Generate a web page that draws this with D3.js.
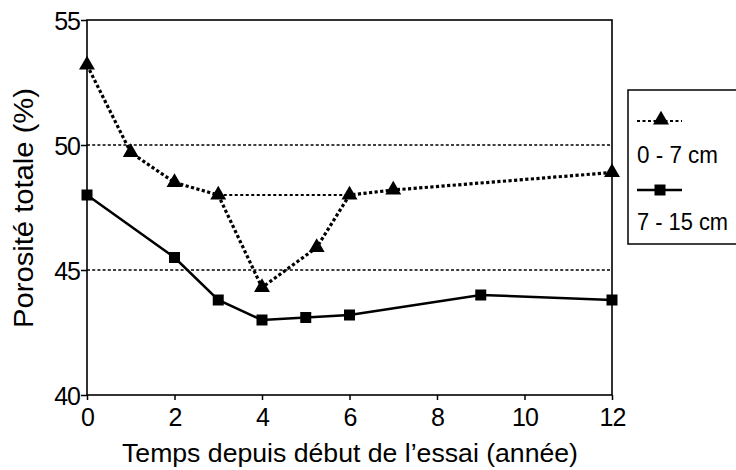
<!DOCTYPE html>
<html>
<head>
<meta charset="utf-8">
<script src="https://cdn.jsdelivr.net/npm/d3@7"></script>
<style>
  body { margin: 0; background: #fff; }
  svg text { font-family: "Liberation Sans", Arial, Helvetica, sans-serif; fill: #000; }
</style>
</head>
<body>
<svg id="main" width="736" height="470"></svg>
<script>
// years since start of the trial
var yearsTop = [0, 1, 2, 3, 4, 5.25, 6, 7, 12];
var porosityTop = [53.2, 49.7, 48.5, 48.0, 44.3, 45.9, 48.0, 48.2, 48.9];   // 0 - 7 cm

var yearsDeep = [0, 2, 3, 4, 5, 6, 9, 12];
var porosityDeep = [48.0, 45.5, 43.8, 43.0, 43.1, 43.2, 44.0, 43.8];     // 7 - 15 cm

var xTicks = [0, 2, 4, 6, 8, 10, 12];
var yTicks = [40, 45, 50, 55];
var gridValues = [45, 50];
var legendLabels = ["0 - 7 cm", "7 - 15 cm"];

var svg = d3.select("svg#main");

var x = d3.scaleLinear().domain([0, 12]).range([87, 612]);
var y = d3.scaleLinear().domain([40, 55]).range([395, 20]);

// dotted grid lines
svg.selectAll("line.grid")
  .data(gridValues)
  .enter().append("line")
  .attr("class", "grid")
  .attr("x1", x(0)).attr("x2", x(12))
  .attr("y1", function (d) { return y(d) }).attr("y2", function (d) { return y(d) })
  .style("stroke", "#000").style("stroke-width", 1.3).style("stroke-dasharray", "3,2.2");

// axes
var xAxis = d3.axisBottom(x).tickValues(xTicks).tickSize(5).tickPadding(8).tickFormat(d3.format("d"));
var yAxis = d3.axisLeft(y).tickValues(yTicks).tickSize(6).tickPadding(1).tickFormat(d3.format("d"));

var gx = svg.append("g").attr("transform", "translate(0," + y(40) + ")").call(xAxis);
var gy = svg.append("g").attr("transform", "translate(" + x(0) + ",0)").call(yAxis);

[gx, gy].forEach(function (g) {
  g.select(".domain").remove();
  g.selectAll(".tick line").style("stroke", "#000").style("stroke-width", 1.5);
  g.selectAll(".tick text").style("font-size", "25px").style("letter-spacing", "-1px");
});
gy.selectAll(".tick text").attr("dy", "0.36em");
gx.selectAll(".tick text").attr("dy", "0.71em");

// frame
svg.append("rect")
  .attr("x", x(0)).attr("y", y(55))
  .attr("width", x(12) - x(0)).attr("height", y(40) - y(55))
  .style("fill", "none").style("stroke", "#000").style("stroke-width", 1.6);

// series lines
var line = d3.line()
  .x(function (d) { return x(d[0]) })
  .y(function (d) { return y(d[1]) });

var topPts = d3.zip(yearsTop, porosityTop);
var deepPts = d3.zip(yearsDeep, porosityDeep);

// thin dotted bridge from year 3 to year 6
svg.append("path")
  .attr("d", line([topPts[3], topPts[6]]))
  .style("fill", "none").style("stroke", "#000").style("stroke-width", 1.8).style("stroke-dasharray", "3,2.5");

svg.append("path")
  .attr("d", line(topPts))
  .style("fill", "none").style("stroke", "#000").style("stroke-width", 3.2).style("stroke-dasharray", "3.2,2.4");

svg.append("path")
  .attr("d", line(deepPts))
  .style("fill", "none").style("stroke", "#000").style("stroke-width", 2.5);

var tri = d3.symbol().type(d3.symbolTriangle).size(110);
var sq = d3.symbol().type(d3.symbolSquare).size(121);

svg.selectAll("path.tri")
  .data(topPts)
  .enter().append("path")
  .attr("class", "tri")
  .attr("d", tri)
  .attr("transform", function (d) { return "translate(" + x(d[0]) + "," + y(d[1]) + ")" })
  .style("fill", "#000");

svg.selectAll("path.sq")
  .data(deepPts)
  .enter().append("path")
  .attr("class", "sq")
  .attr("d", sq)
  .attr("transform", function (d) { return "translate(" + x(d[0]) + "," + y(d[1]) + ")" })
  .style("fill", "#000");

// axis titles
svg.append("text")
  .attr("x", 350).attr("y", 462)
  .attr("text-anchor", "middle")
  .attr("textLength", 456).attr("lengthAdjust", "spacingAndGlyphs")
  .style("font-size", "26px")
  .text("Temps depuis début de l\u2019essai (année)");

svg.append("text")
  .attr("transform", "translate(33,208) rotate(-90)")
  .attr("text-anchor", "middle")
  .attr("textLength", 240).attr("lengthAdjust", "spacingAndGlyphs")
  .style("font-size", "27px")
  .text("Porosité totale (%)");

// legend
var legend = svg.append("g");
legend.append("rect")
  .attr("x", 628).attr("y", 90).attr("width", 130).attr("height", 154)
  .style("fill", "#fff").style("stroke", "#000").style("stroke-width", 1.5);

legend.append("line")
  .attr("x1", 637).attr("x2", 682).attr("y1", 121).attr("y2", 121)
  .style("stroke", "#000").style("stroke-width", 2.2).style("stroke-dasharray", "3,2.5");
legend.append("path").attr("d", tri).attr("transform", "translate(661,120)").style("fill", "#000");

legend.append("line")
  .attr("x1", 637).attr("x2", 682).attr("y1", 190).attr("y2", 190)
  .style("stroke", "#000").style("stroke-width", 2.4);
legend.append("path").attr("d", sq).attr("transform", "translate(660,190)").style("fill", "#000");

legend.selectAll("text")
  .data(legendLabels)
  .enter().append("text")
  .attr("x", 637)
  .attr("y", function (d, i) { return i ? 230 : 163 })
  .attr("textLength", function (d, i) { return i ? 91 : 81 })
  .attr("lengthAdjust", "spacingAndGlyphs")
  .style("font-size", "23px")
  .text(function (d) { return d });
</script>
</body>
</html>
